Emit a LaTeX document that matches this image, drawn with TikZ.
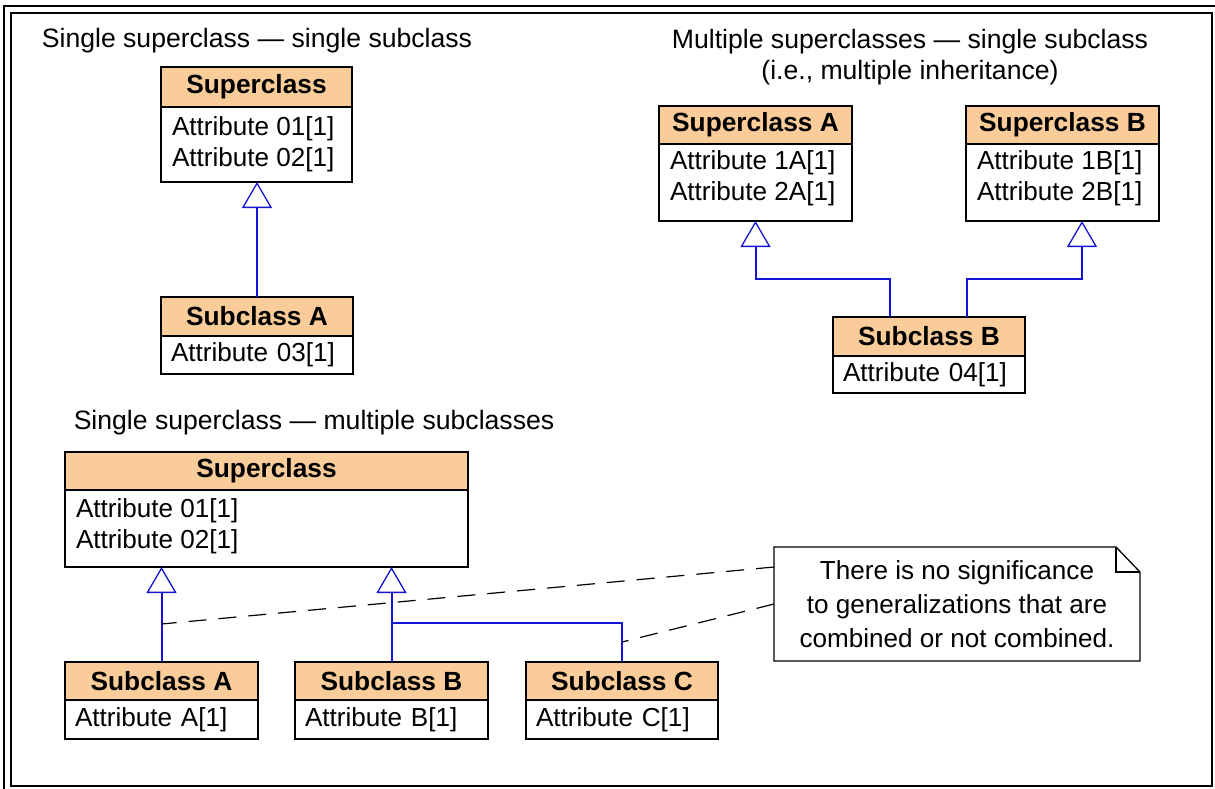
\documentclass[tikz,border=0pt]{standalone}
\usepackage{fontspec}
\setmainfont{Liberation Sans}
\usetikzlibrary{arrows.meta}
\definecolor{hdrfill}{RGB}{250,204,153}
\definecolor{genblue}{RGB}{20,20,210}
\tikzset{
  hdr/.style={draw=black, line width=2.4pt, fill=hdrfill, anchor=north west, inner sep=0pt,
    outer sep=0pt, font=\bfseries\fontsize{26.3}{31}\selectfont},
  body/.style={draw=black, line width=2.4pt, fill=white, anchor=north west, inner xsep=10pt,
    inner ysep=0pt, outer sep=0pt, align=left, font=\fontsize{26.1}{31}\selectfont},
  attr/.style={anchor=west, inner sep=0pt, outer sep=0pt, align=left,
    font=\fontsize{26.1}{31}\selectfont},
  gen/.style={draw=genblue, line width=2pt,
    -{Triangle[open, length=26pt, width=30pt, line width=1.3pt]}},
  link/.style={draw=genblue, line width=2pt},
  noteline/.style={draw=black, line width=1.2pt, dash pattern=on 18pt off 12pt},
  title/.style={font=\fontsize{26.6}{31}\selectfont, align=center, inner sep=0pt},
  notebox/.style={anchor=north west, align=center, inner sep=0pt, outer sep=0pt,
    font=\fontsize{26.1}{34}\selectfont},
  frame/.style={draw=black, line width=2.4pt}
}
\begin{document}
\begin{tikzpicture}[x=1pt, y=-1pt]
\useasboundingbox (0,0) rectangle (1215,788);
% double frame
\draw[frame] (4,6) rectangle (1230,805);
\draw[frame] (11,13) rectangle (1212,786);

% titles
\node[title] (t1) at (257,41) {Single superclass — single subclass};
\node[title] (t2) at (910,57) {Multiple superclasses — single subclass\\(i.e., multiple inheritance)};
\node[title] (t3) at (314,423) {Single superclass — multiple subclasses};

% top-left group
\node[hdr, minimum width=191pt, minimum height=40pt] (c1h) at (161,67) {Superclass};
\node[body, minimum width=191pt, minimum height=75pt] (c1b) at (c1h.south west) {};
\node[attr] (c1t) at ([xshift=11pt, yshift=-37pt]c1b.north west) {Attribute 01[1]\\Attribute 02[1]};
\node[hdr, minimum width=192pt, minimum height=39pt] (c2h) at (161,297) {Subclass A};
\node[body, text width=172pt, minimum height=38pt] (c2b) at (c2h.south west) {Attribute 03[1]};

% top-right group
\node[hdr, minimum width=193pt, minimum height=38pt] (c3h) at (659,106) {Superclass A};
\node[body, minimum width=193pt, minimum height=77pt] (c3b) at (c3h.south west) {};
\node[attr] (c3t) at ([xshift=11pt, yshift=-34pt]c3b.north west) {Attribute 1A[1]\\Attribute 2A[1]};
\node[hdr, minimum width=193pt, minimum height=38pt] (c4h) at (966,106) {Superclass B};
\node[body, minimum width=193pt, minimum height=77pt] (c4b) at (c4h.south west) {};
\node[attr] (c4t) at ([xshift=11pt, yshift=-34pt]c4b.north west) {Attribute 1B[1]\\Attribute 2B[1]};
\node[hdr, minimum width=192pt, minimum height=39pt] (c5h) at (833,317) {Subclass B};
\node[body, text width=172pt, minimum height=37pt] (c5b) at (c5h.south west) {Attribute 04[1]};

% bottom group
\node[hdr, minimum width=403pt, minimum height=38pt] (c6h) at (65,452) {Superclass};
\node[body, minimum width=403pt, minimum height=77pt] (c6b) at (c6h.south west) {};
\node[attr] (c6t) at ([xshift=11pt, yshift=-36.5pt]c6b.north west) {Attribute 01[1]\\Attribute 02[1]};
\node[hdr, minimum width=193pt, minimum height=38pt] (c7h) at (65,662) {Subclass A};
\node[body, text width=173pt, minimum height=39pt] (c7b) at (c7h.south west) {Attribute A[1]};
\node[hdr, minimum width=193pt, minimum height=38pt] (c8h) at (295,662) {Subclass B};
\node[body, text width=173pt, minimum height=39pt] (c8b) at (c8h.south west) {Attribute B[1]};
\node[hdr, minimum width=192pt, minimum height=38pt] (c9h) at (526,662) {Subclass C};
\node[body, text width=172pt, minimum height=39pt] (c9b) at (c9h.south west) {Attribute C[1]};

% note
\coordinate (notenw) at (774,547);
\coordinate (notese) at (1140,661);
\draw[line width=1.3pt, fill=white] (notenw) -- ([xshift=-24pt]notenw -| notese)
  -- ([yshift=-25pt]notenw -| notese) -- (notese) -- (notese -| notenw) -- cycle;
\draw[line width=1.3pt] ([xshift=-24pt]notenw -| notese) -- ([xshift=-24pt, yshift=-25pt]notenw -| notese)
  -- ([yshift=-25pt]notenw -| notese);
\node[notebox, minimum width=366pt, minimum height=114pt] (note) at (notenw)
  {There is no significance\\to generalizations that are\\combined or not combined.};

% generalizations
\draw[gen] (c2h.north) -- (c2h.north |- c1b.south);

\coordinate (jA) at (755.5,279);
\coordinate (jB) at (1082,279);
\draw[gen] ([xshift=-39pt]c5h.north) |- (jA) -- (jA |- c3b.south);
\draw[gen] ([xshift=38pt]c5h.north) |- (jB) -- (jB |- c4b.south);

\draw[gen] (c7h.north) -- (c7h.north |- c6b.south);
\draw[gen] (c8h.north) -- (c8h.north |- c6b.south);
\coordinate (jC) at (391.5,623);
\draw[link] (c9h.north) |- (jC);

% note anchors
\coordinate (dA) at (161.5,624);
\coordinate (dC) at (622,642);
\draw[noteline] ([yshift=-20pt]note.north west) -- (dA);
\draw[noteline] ([yshift=-57pt]note.north west) -- (dC);
\end{tikzpicture}
\end{document}
